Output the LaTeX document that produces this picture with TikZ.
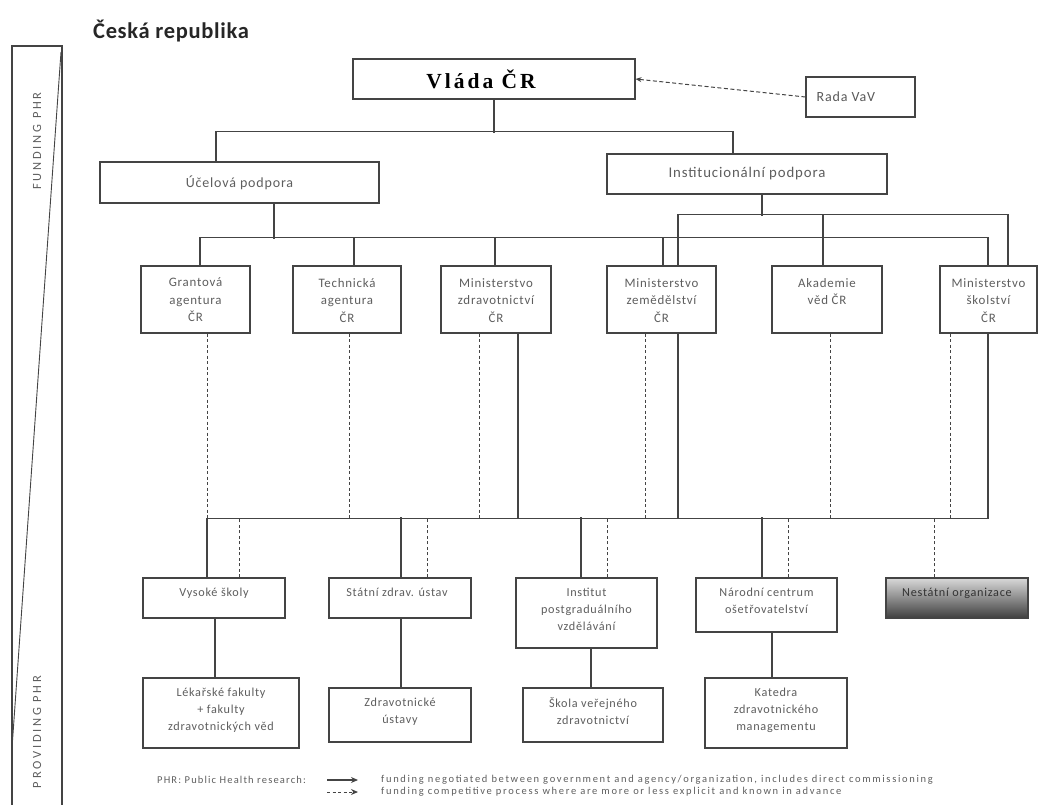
\documentclass[tikz,border=0pt]{standalone}
\usepackage{fontspec}
\setmainfont{Carlito}
\newfontfamily\lsf{Carlito}[LetterSpace=6]
\newfontfamily\lswide{Carlito}[LetterSpace=22]
\newfontfamily\lgA{Carlito}[LetterSpace=11]
\newfontfamily\lgB{Carlito}[LetterSpace=16]
\newfontfamily\ttlf{Carlito}[LetterSpace=3]
\newfontfamily\vlf{Liberation Serif}[LetterSpace=14]
\usetikzlibrary{arrows.meta,calc}
\newcommand\fsz[2]{\fontsize{#1}{#2}\selectfont}
\definecolor{ln}{HTML}{444444}
\definecolor{tx}{HTML}{5E5E5E}
\tikzset{
  box/.style={draw=ln, line width=1.1pt, inner sep=0pt, fill=white},
  txt/.style={font=\lsf\fsz{12.2}{17.3}, text=tx, align=center, inner sep=0pt},
  txtb/.style={font=\lsf\fsz{12.9}{17.5}, text=tx, align=center, inner sep=0pt},
  conn/.style={draw=ln, line width=1.1pt},
  dconn/.style={draw=ln, line width=1pt, dash pattern=on 3pt off 2.5pt},
}
\begin{document}
\begin{tikzpicture}[x=1pt,y=-1pt]
\useasboundingbox (0,0) rectangle (1039,805);

% left band
\coordinate (bandTL) at (12,46);
\coordinate (bandTR) at (62,46);
\coordinate (bandBL) at (12,806);
\coordinate (bandBR) at (62,806);
\coordinate (diagA) at (61,52);
\coordinate (diagB) at (12,748);
\draw[conn] (bandBL) -- (bandTL) -- (bandTR) -- (bandBR);
\draw[draw=ln, line width=0.9pt] (diagA) -- (diagB);
\node[rotate=90, font=\lswide\fsz{12.5}{14}, text=tx] (fund) at (37,141) {FUNDING PHR};
\node[rotate=90, font=\lswide\fsz{12.5}{14}, text=tx] (prov) at (37,732) {PROVIDING PHR};

% title
\node[anchor=west, font=\ttlf\bfseries\fsz{22.5}{26}, text=black!85, inner sep=0pt] (title) at (93,31) {Česká republika};

% top level
\node[box, minimum width=282, minimum height=40] (vlada) at (494,79) {};
\node[font=\vlf\bfseries\fsz{21.5}{24}, inner sep=0pt] (vladat) at ([xshift=-13]vlada.center) {Vláda ČR};
\node[box, minimum width=109, minimum height=40] (rada) at (860.5,97) {};
\node[font=\lsf\fsz{14}{17}, anchor=west, text=black!65, inner sep=0pt] (radat) at ([xshift=11]rada.west) {Rada VaV};
\draw[draw=ln, line width=1pt, dash pattern=on 4pt off 2.5pt, -{Stealth[length=6pt,width=5pt]}] (rada.west) -- (vlada.east);

\node[box, minimum width=279, minimum height=41, font=\lsf\fsz{14}{17}, text=tx] (ucel) at (239.5,182.5) {Účelová podpora};
\node[box, minimum width=280, minimum height=40, font=\lsf\fsz{14.8}{17}, text=tx] (inst) at (747,174) {Institucionální podpora};

\draw[conn] (vlada.south) -- ++(0,33) coordinate (jA);
\draw[conn] ([xshift=-23.5]ucel.north) -- ++(0,-30) -| ([xshift=-14]inst.north);

% row 2 boxes
\node[box, minimum width=109, minimum height=67] (gac) at (195.5,299.5) {};
\node[box, minimum width=108, minimum height=67] (tac) at (347,299.5) {};
\node[box, minimum width=110, minimum height=67] (mzd) at (496,299.5) {};
\node[box, minimum width=109, minimum height=67] (mze) at (661.5,299.5) {};
\node[box, minimum width=110, minimum height=67] (avc) at (827,299.5) {};
\node[box, minimum width=97, minimum height=67] (msk) at (988.5,299.5) {};
\node[txtb, anchor=north] (gact) at ([yshift=-12.5]gac.north) {Grantová\\agentura\\ČR};
\node[txtb, anchor=north] (tact) at ([yshift=-12.5]tac.north) {Technická\\agentura\\ČR};
\node[txtb, anchor=north] (mzdt) at ([yshift=-12.5]mzd.north) {Ministerstvo\\zdravotnictví\\ČR};
\node[txtb, anchor=north] (mzet) at ([yshift=-12.5]mze.north) {Ministerstvo\\zemědělství\\ČR};
\node[txtb, anchor=north] (avct) at ([yshift=-12.5]avc.north) {Akademie\\věd ČR};
\node[txtb, anchor=north] (mskt) at ([yshift=-12.5]msk.north) {Ministerstvo\\školství\\ČR};

% bus 1 (ucelova)
\draw[conn] ([xshift=34.5]ucel.south) -- ++(0,35) coordinate (b1);
\draw[conn] ([xshift=4.5]gac.north) -- ++(0,-28) -| ([xshift=-0.5]msk.north);
\draw[conn] ([xshift=7]tac.north) -- ++(0,-28);
\draw[conn] ([xshift=-1]mzd.north) -- ++(0,-28);
\draw[conn] ([xshift=1.5]mze.north) -- ++(0,-28);
% bus 2 (institucionalni)
\draw[conn] ([xshift=15]inst.south) -- ++(0,21) coordinate (b2);
\draw[conn] ([xshift=16.5]mze.north) -- ++(0,-51) -| ([xshift=19.5]msk.north);
\draw[conn] ([xshift=-4]avc.north) -- ++(0,-51);

% row 3 boxes
\node[box, minimum width=142, minimum height=40] (vs) at (214,598) {};
\node[box, minimum width=142, minimum height=40] (szu) at (400,598) {};
\node[box, minimum width=141, minimum height=70] (ipv) at (586.5,613) {};
\node[box, minimum width=141, minimum height=54] (nco) at (766.5,605) {};
\node[draw=ln, line width=1.1pt, inner sep=0pt, minimum width=142, minimum height=40, top color=black!15, bottom color=black!75] (nst) at (957,598) {};
\node[txt, anchor=north] (vst) at ([yshift=-10]vs.north) {Vysoké školy};
\node[txt, anchor=north] (szut) at ([xshift=-3,yshift=-10]szu.north) {Státní zdrav. ústav};
\node[txt, anchor=north] (ipvt) at ([yshift=-10]ipv.north) {Institut\\postgraduálního\\vzdělávání};
\node[txt, anchor=north] (ncot) at ([yshift=-10]nco.north) {Národní centrum\\ošetřovatelství};
\node[txt, anchor=north, text=black!80] (nstt) at ([yshift=-10]nst.north) {Nestátní organizace};

% row 2 -> bus 3
\draw[conn] ([xshift=-0.5]msk.south) -- ++(0,185) -| ([xshift=-7]vs.north);
\draw[conn] ([xshift=22]mzd.south) -- ++(0,185);
\draw[conn] ([xshift=16.5]mze.south) -- ++(0,185);
\draw[dconn] ([xshift=11.5]gac.south) -- ++(0,185);
\draw[dconn] ([xshift=2]tac.south) -- ++(0,185);
\draw[dconn] ([xshift=-17]mzd.south) -- ++(0,185);
\draw[dconn] ([xshift=-16.5]mze.south) -- ++(0,185);
\draw[dconn] ([xshift=3]avc.south) -- ++(0,185);
\draw[dconn] ([xshift=-38.5]msk.south) -- ++(0,185);

% bus 3 -> row 3
\draw[conn] ([xshift=1]szu.north) -- ++(0,-60);
\draw[conn] ([xshift=-5.5]ipv.north) -- ++(0,-60);
\draw[draw=ln, line width=2.2pt] ([xshift=-4.5]nco.north) -- ++(0,-60);
\draw[dconn] ([xshift=25]vs.north) -- ++(0,-60);
\draw[dconn] ([xshift=27]szu.north) -- ++(0,-60);
\draw[dconn] ([xshift=20.5]ipv.north) -- ++(0,-60);
\draw[dconn] ([xshift=21.5]nco.north) -- ++(0,-60);
\draw[dconn] ([xshift=-23]nst.north) -- ++(0,-60);

% row 4 boxes
\node[box, minimum width=156, minimum height=70] (lf) at (221,713) {};
\node[box, minimum width=142, minimum height=54] (zu) at (400,715) {};
\node[box, minimum width=140, minimum height=54] (svz) at (593,715) {};
\node[box, minimum width=142, minimum height=70] (kzm) at (776,713) {};
\node[txt, anchor=north] (lft) at ([yshift=-10]lf.north) {Lékařské fakulty\\+ fakulty\\zdravotnických věd};
\node[txt, anchor=north] (zut) at ([yshift=-10]zu.north) {Zdravotnické\\ústavy};
\node[txt, anchor=north] (svzt) at ([yshift=-10]svz.north) {Škola veřejného\\zdravotnictví};
\node[txt, anchor=north] (kzmt) at ([yshift=-10]kzm.north) {Katedra\\zdravotnického\\managementu};

\draw[conn] ([xshift=1]vs.south) -- ++(0,60);
\draw[conn] ([xshift=1]szu.south) -- ([xshift=1]zu.north);
\draw[conn] ([xshift=4.5]ipv.south) -- ([xshift=-2]svz.north);
\draw[conn] ([xshift=5.5]nco.south) -- ([xshift=-4]kzm.north);

% legend
\node[anchor=west, font=\lgA\fsz{10.5}{12}, text=tx, inner sep=0pt] (lg0) at (157,780) {PHR: Public Health research:};
\coordinate (la1) at (327,780);
\coordinate (lb1) at (358,780);
\coordinate (la2) at (327,792);
\coordinate (lb2) at (358,792);
\draw[conn, -{Stealth[length=7pt,width=6pt]}] (la1) -- (lb1);
\draw[dconn, -{Stealth[length=7pt,width=6pt]}] (la2) -- (lb2);
\node[anchor=west, font=\lgB\fsz{10.5}{12}, text=tx, inner sep=0pt] (lg1) at (381,780) {funding negotiated between government and agency/organization, includes direct commissioning};
\node[anchor=west, font=\lgB\fsz{10.5}{12}, text=tx, inner sep=0pt] (lg2) at (381,792) {funding competitive process where are more or less explicit and known in advance};
\end{tikzpicture}
\end{document}
